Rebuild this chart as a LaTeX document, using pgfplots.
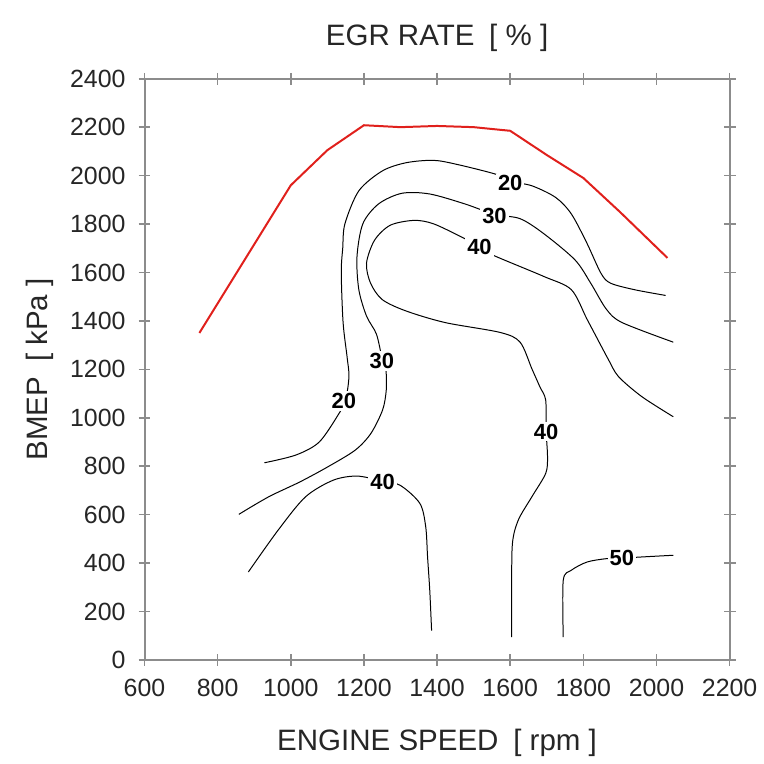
\documentclass[border=0pt]{standalone}
\usepackage{pgfplots}
\pgfplotsset{compat=1.18}
\usepackage{fontspec}
\setmainfont{Liberation Sans}

\definecolor{axgray}{HTML}{8C8C8C}
\definecolor{txt}{HTML}{262626}
\definecolor{egrred}{HTML}{E0201C}
\tikzset{lbl/.style={fill=white, inner sep=1pt, text=black, font=\bfseries\fontsize{11}{13}\selectfont}}

\begin{document}
\begin{tikzpicture}
\begin{axis}[
  scale only axis, width=293.5pt, height=291.5pt,
  xmin=600, xmax=2200, ymin=0, ymax=2400,
  xtick={600,800,...,2200}, ytick={0,200,...,2400},
  /pgf/number format/assume math mode=true,
  /pgf/number format/set thousands separator={},
  axis line style={draw=axgray, line width=1pt},
  tick style={draw=axgray, line width=0.8pt},
  major tick length=6pt, tick align=center,
  ticklabel style={font=\fontsize{12.5}{14}\selectfont, text=txt},
  xticklabel style={yshift=-3pt},
  yticklabel style={xshift=-3pt},
  title={EGR RATE\enspace[ \% ]},
  xlabel={ENGINE SPEED\enspace[ rpm ]},
  ylabel={BMEP\enspace[ kPa ]},
  label style={font=\fontsize{14.8}{17}\selectfont, text=txt},
  title style={font=\fontsize{14.8}{17}\selectfont, text=txt, at={(axis description cs:0.5,1.05)}, anchor=center, yshift=0pt},
  xlabel style={at={(axis description cs:0.5,-0.1426)}, anchor=center},
  ylabel style={at={(axis description cs:-0.178,0.5)}, anchor=center},
  clip=false,
]
% full-load line
\addplot[color=egrred, line width=1pt] coordinates {
  (750,1350) (1000,1960) (1100,2105) (1200,2208) (1300,2200) (1400,2205)
  (1500,2200) (1600,2185) (1700,2085) (1800,1990) (1900,1850) (2030,1660)};

% 20 %
\addplot[black, line width=0.5pt, smooth, tension=0.5] coordinates {
  (928,814) (1014,846) (1078,900) (1132,1018) (1150,1073) (1159,1170) (1154,1250)
  (1143,1393) (1138,1600) (1142,1700) (1148,1801) (1186,1937) (1250,2019)
  (1315,2053) (1390,2063) (1455,2046) (1562,2005) (1600,1976) (1659,1958)
  (1724,1910) (1767,1842) (1810,1720) (1848,1597) (1874,1556) (1939,1529) (2025,1505)};

% 30 %
\addplot[black, line width=0.5pt, smooth, tension=0.5] coordinates {
  (858,601) (939,673) (1025,735) (1101,797) (1176,866) (1219,935) (1251,1032)
  (1261,1114) (1260,1197) (1249,1250) (1234,1346) (1207,1420) (1186,1529)
  (1181,1665) (1197,1801) (1240,1883) (1304,1927) (1380,1924) (1476,1883)
  (1557,1840) (1627,1822) (1691,1761) (1777,1652) (1820,1556) (1863,1448)
  (1906,1393) (2046,1312)};

% 40 % (upper loop)
\addplot[black, line width=0.5pt, smooth, tension=0.5] coordinates {
  (1604,94) (1604,287) (1606,480) (1622,577) (1659,673) (1697,770) (1702,839)
  (1698,949) (1697,1073) (1681,1128) (1659,1203) (1627,1312) (1573,1352)
  (1422,1393) (1315,1441) (1250,1488) (1218,1556) (1207,1638) (1229,1733)
  (1272,1795) (1337,1815) (1390,1801) (1466,1747) (1516,1706) (1552,1672)
  (1691,1584) (1767,1529) (1810,1407) (1853,1284) (1869,1239) (1896,1170)
  (1960,1087) (2046,1004)};

% 40 % (lower)
\addplot[black, line width=0.5pt, smooth, tension=0.5] coordinates {
  (884,363) (965,535) (1040,673) (1116,742) (1181,759) (1249,739) (1299,721)
  (1353,646) (1369,549) (1374,425) (1380,287) (1385,121)};

% 50 %
\addplot[black, line width=0.5pt, smooth, tension=0.5] coordinates {
  (1745,94) (1745,328) (1767,370) (1810,404) (1863,418) (1905,420)
  (1960,425) (2046,432)};

\node[lbl] at (axis cs:1145,1070) {20};
\node[lbl] at (axis cs:1600,1968) {20};
\node[lbl] at (axis cs:1249,1235) {30};
\node[lbl] at (axis cs:1557,1832) {30};
\node[lbl] at (axis cs:1516,1704) {40};
\node[lbl] at (axis cs:1698,943) {40};
\node[lbl] at (axis cs:1251,733) {40};
\node[lbl] at (axis cs:1905,420) {50};

\path (axis description cs:-0.247,-0.1647) rectangle (axis description cs:1.0545,1.1355);
\end{axis}
\end{tikzpicture}
\end{document}
